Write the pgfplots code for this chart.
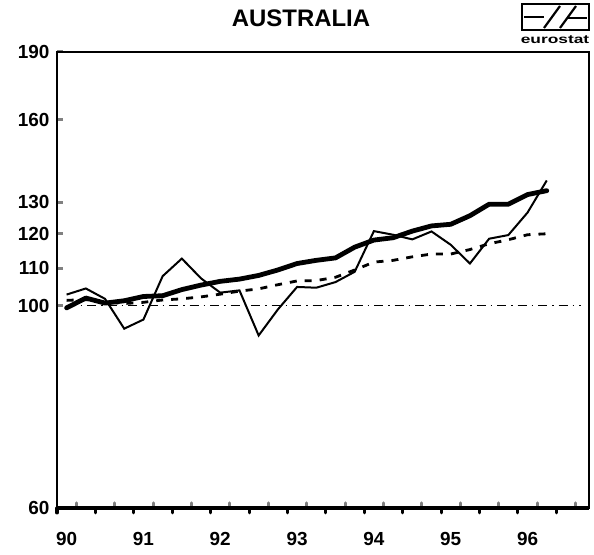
\documentclass[border=0pt]{standalone}
\usepackage{fontspec}
\setmainfont{Liberation Sans}
\usepackage{pgfplots}
\pgfplotsset{compat=1.18}
\usetikzlibrary{calc}

% quarters: 0 = 1990 Q1 ... 25 = 1996 Q2
\pgfplotstableread{
q  thick  thin   dash
0  99.5   102.9  101.4
1  102.0  104.5  101.6
2  100.7  101.8  101.0
3  101.3  94.4   100.6
4  102.4  96.6   100.9
5  102.6  107.8  101.5
6  104.2  112.7  101.8
7  105.4  107.2  102.3
8  106.4  103.4  103.0
9  107.0  104.0  103.8
10 108.0  92.8   104.4
11 109.5  99.1   105.5
12 111.3  104.9  106.5
13 112.2  104.7  106.6
14 112.9  106.2  107.5
15 116.0  109.0  109.5
16 118.1  120.8  111.7
17 118.8  119.7  112.2
18 120.8  118.3  113.2
19 122.4  120.7  114.0
20 122.9  116.7  114.0
21 125.6  111.3  115.3
22 129.3  118.5  117.0
23 129.3  119.6  118.2
24 132.5  126.6  119.7
25 133.8  137.3  120.0
}\austab

\begin{document}
\begin{tikzpicture}
\begin{axis}[
  scale only axis,
  width=532bp, height=456bp,
  xmin=-0.5, xmax=27.2,
  ymode=log, ymin=60, ymax=190,
  axis line style={line width=1.3bp},
  tick align=inside,
  xtick pos=bottom, ytick pos=left,
  major tick length=6bp, minor tick length=5bp,
  ytick={60,100,110,120,130,160,190},
  yticklabels={60,100,110,120,130,160,190},
  major y tick style={line width=3bp},
  xtick={0,4,...,24},
  xticklabels={90,91,92,93,94,95,96},
  major x tick style={draw=none},
  minor xtick={0.5,2.5,...,26.5},
  minor x tick style={line width=3bp, line cap=round},
  extra x ticks={-0.5,1.5,...,25.5},
  extra x tick labels={},
  extra x tick style={major tick length=-5bp,
    major x tick style={draw=black, line width=3bp, line cap=round}},
  tick label style={font=\bfseries\fontsize{19}{19}\selectfont},
  /pgf/number format/assume math mode=true,
  yticklabel style={xshift=-4bp},
  xticklabel style={yshift=-21bp},
  clip=false,
]
\addplot[black, line width=0.8bp, dash pattern=on 9bp off 5bp on 1.5bp off 5bp]
  coordinates {(0,100) (26.8,100)};
\addplot[black, line width=2.8bp, dash pattern=on 7bp off 8bp] table[x=q, y=dash] {\austab};
\addplot[black, line width=2bp, line join=miter] table[x=q, y=thin] {\austab};
\addplot[black, line width=4.8bp, line join=round, line cap=round] table[x=q, y=thick] {\austab};
\draw[line width=3.5bp] (rel axis cs:0,0) -- (rel axis cs:1,0);
\draw[line width=2bp] (rel axis cs:0,0) -- (rel axis cs:0,1);
\end{axis}
\coordinate (O) at (current axis.north west);
% page frame: 594 x 555
\path ($(O)+(-57bp,-503bp)$) rectangle ($(O)+(537bp,52bp)$);
% title
\node[font=\bfseries\fontsize{24}{24}\selectfont] at ($(O)+(244bp,34bp)$) {AUSTRALIA};
% eurostat logo
\draw[line width=2bp] ($(O)+(465bp,48bp)$) rectangle ($(O)+(532bp,22bp)$);
\draw[line width=2.2bp] ($(O)+(467bp,35bp)$) -- ($(O)+(487bp,35bp)$);
\draw[line width=2.2bp] ($(O)+(487bp,24bp)$) -- ($(O)+(503bp,46bp)$);
\draw[line width=2.2bp] ($(O)+(503bp,24bp)$) -- ($(O)+(519bp,46bp)$);
\draw[line width=2.2bp] ($(O)+(510bp,34bp)$) -- ($(O)+(530bp,34bp)$);
\node[font=\bfseries\fontsize{12}{12}\selectfont, xscale=1.45, inner sep=0pt] at ($(O)+(498bp,12bp)$) {eurostat};
\end{tikzpicture}
\end{document}
